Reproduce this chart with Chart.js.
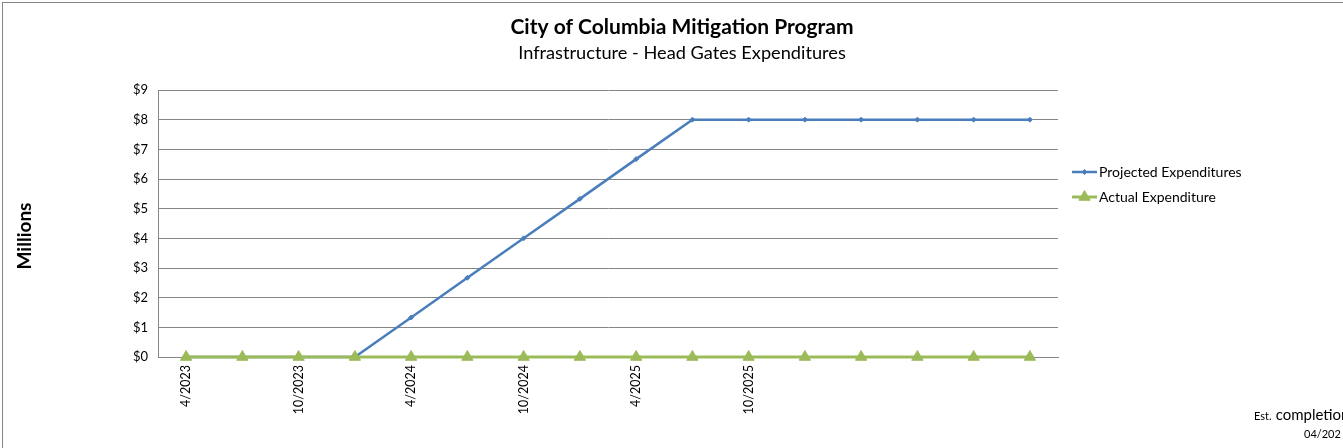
<!DOCTYPE html>
<html>
<head>
<meta charset="utf-8">
<script src="https://cdn.jsdelivr.net/npm/chart.js@4/dist/chart.umd.min.js"></script>
<style>
  html, body { margin: 0; padding: 0; width: 1343px; height: 448px; overflow: hidden; background: #fff; }
  #frame { position: absolute; left: 2px; top: 2px; width: 1400px; height: 500px; border: 1px solid #868686; }
  canvas { position: absolute; left: 0; top: 0; }
  .note { position: absolute; font-family: Lato, "Open Sans", sans-serif; color: #000; white-space: nowrap; }
</style>
</head>
<body>
<div id="frame"></div>
<canvas id="c" width="1343" height="448"></canvas>
<div class="note" style="left:1254px; top:404px;"><span style="font-size:11px;">Est.</span> <span style="font-size:15px;">completion</span></div>
<div class="note" style="left:1304px; top:427px; font-size:11px;">04/202</div>
<script>
const chartTitle = 'City of Columbia Mitigation Program';
const chartSubtitle = 'Infrastructure - Head Gates Expenditures';
const yAxisTitle = 'Millions';
const categories = ['4/2023','7/2023','10/2023','1/2024','4/2024','7/2024','10/2024','1/2025','4/2025','7/2025','10/2025','1/2026','4/2026','7/2026','10/2026','1/2027'];
const tickLabels = ['4/2023','','10/2023','','4/2024','','10/2024','','4/2025','','10/2025','','','','',''];
const projected = [0,0,0,0,1.33,2.67,4,5.33,6.67,8,8,8,8,8,8,8];
const actual = [0,0,0,0,0,0,0,0,0,0,0,0,0,0,0,0];
const yTicks = [0,1,2,3,4,5,6,7,8,9];

const FONT = 'Lato, "Open Sans", sans-serif';

const titlePlugin = {
  id: 'titles',
  afterDraw(chart) {
    const ctx = chart.ctx;
    ctx.save();
    ctx.fillStyle = '#000';
    ctx.textAlign = 'center';
    ctx.textBaseline = 'middle';
    ctx.font = 'bold 21px ' + FONT;
    ctx.fillText(chartTitle, 682, 27);
    ctx.font = '18.2px ' + FONT;
    ctx.fillText(chartSubtitle, 682, 53);
    ctx.translate(25, 236);
    ctx.rotate(-Math.PI / 2);
    ctx.font = 'bold 19px ' + FONT;
    ctx.fillText(yAxisTitle, 0, 0);
    ctx.restore();
  }
};

const legendPlugin = {
  id: 'sideLegend',
  afterDraw(chart) {
    const ctx = chart.ctx;
    ctx.save();
    chart.data.datasets.forEach((ds, i) => {
      const y = 172 + 25 * i;
      ctx.strokeStyle = ds.borderColor;
      ctx.lineWidth = ds.borderWidth;
      ctx.beginPath();
      ctx.moveTo(1072, y);
      ctx.lineTo(1097, y);
      ctx.stroke();
      ctx.fillStyle = ds.pointBackgroundColor;
      ctx.strokeStyle = ds.pointBorderColor;
      ctx.lineWidth = 1;
      Chart.helpers.drawPoint(ctx, {pointStyle: ds.pointStyle, radius: ds.pointRadius, borderWidth: 1, rotation: 0}, 1084.5, y);
      ctx.fillStyle = '#000';
      ctx.font = '14px ' + FONT;
      ctx.textAlign = 'left';
      ctx.textBaseline = 'middle';
      ctx.fillText(ds.label, 1099, y);
    });
    ctx.restore();
  }
};

new Chart(document.getElementById('c'), {
  type: 'line',
  data: {
    labels: categories,
    datasets: [
      {
        label: 'Projected Expenditures',
        data: projected,
        borderColor: '#4A7EBB',
        backgroundColor: '#4A7EBB',
        pointBackgroundColor: '#4A7EBB',
        pointBorderColor: '#4A7EBB',
        borderWidth: 2.5,
        pointStyle: 'rectRot',
        pointRadius: 2.5,
        pointBorderWidth: 1,
        tension: 0,
        clip: false,
        order: 2
      },
      {
        label: 'Actual Expenditure',
        data: actual,
        borderColor: '#9BBB59',
        backgroundColor: '#9BBB59',
        pointBackgroundColor: '#9BBB59',
        pointBorderColor: '#9BBB59',
        borderWidth: 3,
        pointStyle: 'triangle',
        pointRadius: 6.5,
        pointBorderWidth: 1,
        tension: 0,
        clip: false,
        order: 1
      }
    ]
  },
  options: {
    responsive: false,
    animation: false,
    layout: { padding: { left: 0, right: 285, top: 90, bottom: 0 } },
    plugins: { legend: { display: false }, title: { display: false }, tooltip: { enabled: false } },
    scales: {
      x: {
        type: 'category',
        offset: true,
        grid: { display: false, drawTicks: false },
        border: { display: true, color: '#868686', width: 1 },
        ticks: {
          autoSkip: false,
          maxRotation: 90,
          minRotation: 90,
          padding: 8,
          color: '#000',
          font: { family: FONT, size: 12.5 },
          callback: (v, i) => tickLabels[i]
        },
        afterFit: (s) => { s.height = 91; }
      },
      y: {
        min: 0,
        max: 9,
        afterBuildTicks: (s) => { s.ticks = yTicks.map(v => ({ value: v })); },
        grid: { color: '#868686', lineWidth: 1, drawTicks: false },
        border: { display: true, color: '#868686', width: 1 },
        ticks: {
          padding: 10,
          color: '#000',
          font: { family: FONT, size: 13 },
          callback: (v) => '$' + v
        },
        title: { display: false },
        afterFit: (s) => { s.width = 158; }
      }
    }
  },
  plugins: [titlePlugin, legendPlugin]
});
</script>
</body>
</html>
